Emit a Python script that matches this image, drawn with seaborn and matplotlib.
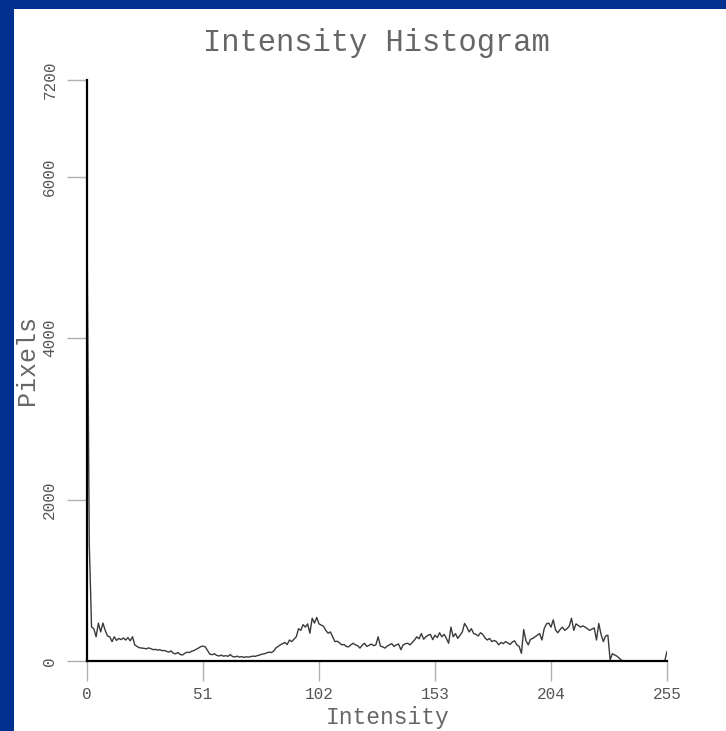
import numpy as np
import pandas as pd
import matplotlib
matplotlib.use("Agg")
import matplotlib.pyplot as plt
from matplotlib.patches import Rectangle
import seaborn as sns

# histogram counts, one per intensity level 0..255
pixels = [
    5420, 1450, 420, 400, 300, 470, 360, 470, 380, 310,
    300, 240, 300, 255, 280, 265, 285, 260, 290, 250,
    300, 200, 180, 165, 160, 158, 150, 162, 155, 140,
    145, 135, 140, 128, 130, 120, 110, 125, 95, 90,
    105, 80, 75, 95, 110, 105, 120, 130, 145, 160,
    178, 185, 175, 130, 85, 78, 90, 70, 62, 72,
    60, 66, 58, 80, 55, 50, 60, 48, 55, 45,
    52, 48, 55, 60, 58, 68, 75, 85, 90, 100,
    110, 105, 120, 160, 180, 200, 215, 230, 205, 260,
    240, 270, 300, 400, 380, 450, 420, 460, 345, 530,
    470, 540, 460, 445, 430, 380, 345, 360, 300, 240,
    245, 225, 200, 205, 180, 175, 200, 220, 200, 190,
    160, 195, 220, 180, 195, 210, 190, 200, 300, 185,
    175, 160, 185, 200, 215, 180, 200, 210, 140, 200,
    215, 220, 200, 230, 260, 300, 275, 340, 270, 300,
    320, 330, 265, 320, 290, 350, 300, 330, 280, 220,
    420, 300, 340, 280, 320, 360, 465, 420, 360, 400,
    340, 330, 310, 350, 330, 285, 260, 280, 240, 255,
    240, 200, 230, 215, 240, 225, 205, 235, 250, 200,
    180, 95, 390, 250, 200, 270, 280, 300, 320, 340,
    260, 400, 460, 470, 420, 510, 385, 350, 390, 420,
    380, 400, 430, 530, 380, 460, 440, 420, 435, 420,
    400, 380, 395, 410, 260, 465, 330, 240, 310, 320,
    15, 90, 75, 60, 35, 10, 0, 0, 0, 0,
    0, 0, 0, 0, 0, 0, 0, 0, 0, 0,
    0, 0, 0, 0, 0, 120,
]
intensity = list(range(256))
x_ticks = [0, 51, 102, 153, 204, 255]
y_ticks = [0, 2000, 4000, 6000, 7200]

df = pd.DataFrame({"Intensity": intensity, "Pixels": pixels})

sns.set_style("white")
mono = ["Liberation Mono", "DejaVu Sans Mono"]

W, H = 726, 731
fig = plt.figure(figsize=(W / 100, H / 100), dpi=100)
fig.patch.set_facecolor("#003090")
fig.add_artist(Rectangle((14 / W, 0), 1, 1 - 9 / H, transform=fig.transFigure,
                         facecolor="white", edgecolor="none", zorder=0))

ax = fig.add_axes([87 / W, 1 - 661 / H, 580 / W, 581 / H])
ax.set_facecolor("none")

sns.lineplot(data=df, x="Intensity", y="Pixels", ax=ax, color="#3a3a3a", linewidth=1.0)

ax.set_xlim(0, 255)
ax.set_ylim(0, 7200)
ax.set_xticks(x_ticks)
ax.set_yticks(y_ticks)
ax.set_xticklabels([str(t) for t in x_ticks], family=mono, fontsize=11.5, color="#555555")
ax.set_yticklabels([str(t) for t in y_ticks], family=mono, fontsize=11.5, color="#555555",
                   rotation=90, va="center")
ax.tick_params(axis="both", direction="out", length=14.4, width=1, color="#b0b0b0",
               bottom=True, left=True)
ax.tick_params(axis="x", pad=4)
ax.tick_params(axis="y", pad=7)

for s in ["top", "right"]:
    ax.spines[s].set_visible(False)
for s in ["left", "bottom"]:
    ax.spines[s].set_color("black")
    ax.spines[s].set_linewidth(1.6)
    ax.spines[s].set_zorder(3)

ax.set_xlabel("Intensity", family=mono, fontsize=16.5, color="#666666", va="baseline")
ax.set_ylabel("Pixels", family=mono, fontsize=18, color="#666666", va="center", ha="center")
ax.xaxis.set_label_coords((388 - 87) / 580, (661 - 724) / 581)
ax.yaxis.set_label_coords((27 - 87) / 580, (661 - 360) / 581)

fig.text(376 / W, 1 - 43 / H, "Intensity Histogram", family=mono, fontsize=22,
         color="#666666", ha="center", va="center")

fig.savefig("out.png", dpi=100, facecolor=fig.get_facecolor())
